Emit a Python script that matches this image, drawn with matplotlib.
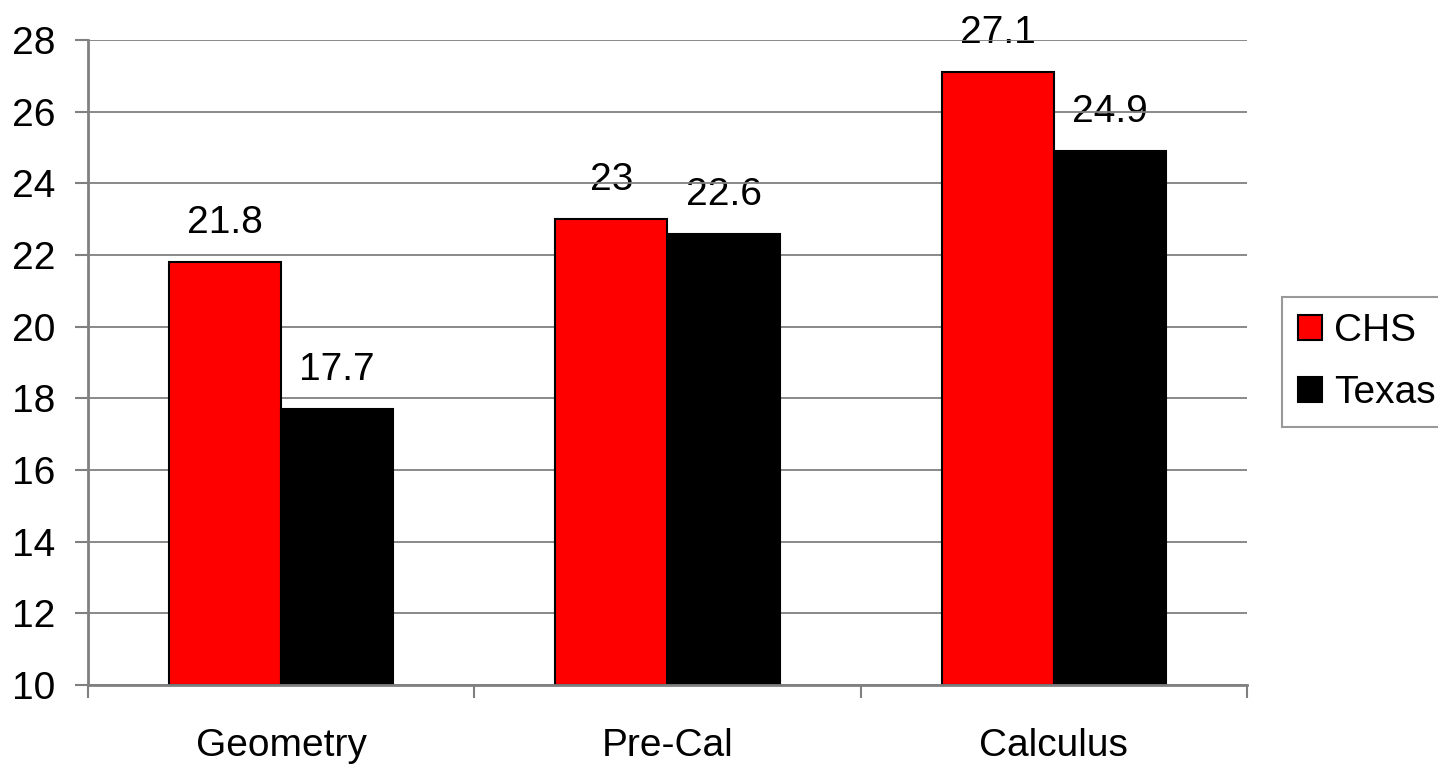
import matplotlib
matplotlib.use("Agg")
import matplotlib.pyplot as plt
import numpy as np

categories = ["Geometry", "Pre-Cal", "Calculus"]
chs = [21.8, 23, 27.1]
texas = [17.7, 22.6, 24.9]
chs_labels = ["21.8", "23", "27.1"]
texas_labels = ["17.7", "22.6", "24.9"]

plt.rcParams['font.family'] = ['Liberation Sans', 'DejaVu Sans']

fig = plt.figure(figsize=(14.38, 7.65), dpi=100)
ax = fig.add_axes([88/1438, 80/765, (1247-88)/1438, (685-40)/765])

x = np.arange(len(categories))
w = 0.29
b1 = ax.bar(x - w/2, np.array(chs) - 10, w, bottom=10, color='#ff0000', edgecolor='black', linewidth=1.5, label='CHS', zorder=3)
b2 = ax.bar(x + w/2, np.array(texas) - 10, w, bottom=10, color='#000000', edgecolor='black', linewidth=1.5, label='Texas', zorder=3)

for xi, v, lab in zip(x - w/2, chs, chs_labels):
    ax.annotate(lab, (xi, v), xytext=(0, 15), textcoords='offset points', ha='center', va='bottom', fontsize=28, annotation_clip=False, zorder=0.3)
for xi, v, lab in zip(x + w/2, texas, texas_labels):
    ax.annotate(lab, (xi, v), xytext=(0, 15), textcoords='offset points', ha='center', va='bottom', fontsize=28, annotation_clip=False, zorder=0.3)

ax.set_xlim(-0.5, 2.5)
ax.set_ylim(10, 28)
ax.set_yticks(np.arange(10, 29, 2))
ax.set_xticks(x)
ax.set_xticklabels(categories, fontsize=28)
ax.set_xticks([-0.5, 0.5, 1.5, 2.5], minor=True)
ax.tick_params(axis='x', which='major', length=0, pad=31)
ax.tick_params(axis='x', which='minor', length=9.4, width=1.5, color='#808080', direction='out')
ax.tick_params(axis='y', labelsize=28, length=9.4, width=1.5, color='#808080', direction='out', pad=14)

ax.grid(axis='y', color='#808080', linewidth=1.3)
ax.set_axisbelow(True)
for s in ['left', 'bottom']:
    ax.spines[s].set_color('#808080')
    ax.spines[s].set_linewidth(2)
for s in ['top', 'right']:
    ax.spines[s].set_visible(False)
ax.spines['left'].set_zorder(4)
ax.spines['bottom'].set_zorder(4)

leg = fig.legend(handles=[b1, b2], loc='upper left', bbox_to_anchor=(1282/1438, 1 - 297/765),
                 fontsize=28, frameon=True, fancybox=False, edgecolor='#808080',
                 handlelength=0.6, handleheight=0.6, handletextpad=0.33, borderpad=0.42,
                 labelspacing=0.66, borderaxespad=0)
leg.get_frame().set_linewidth(1.5)

fig.savefig('out.png', dpi=100)
